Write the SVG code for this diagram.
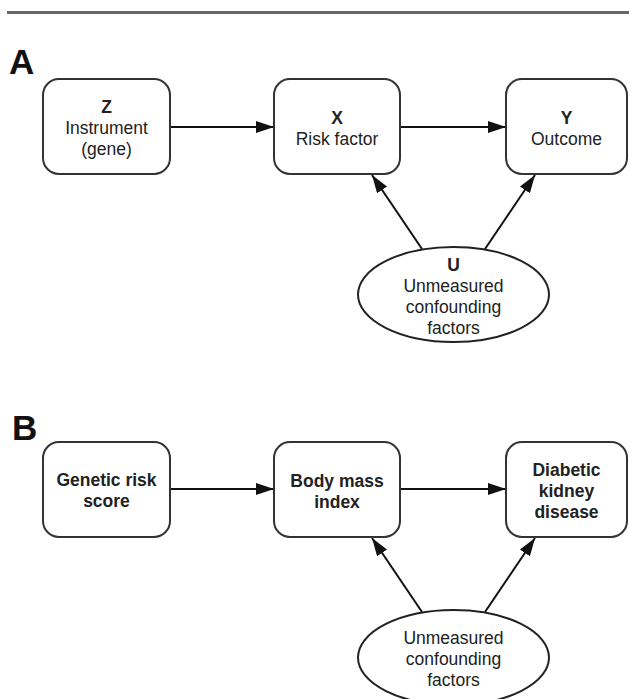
<svg xmlns="http://www.w3.org/2000/svg" width="629" height="699" viewBox="0 0 629 699">
<defs>
<marker id="ah" viewBox="0 0 18 12" refX="18" refY="6" markerWidth="18" markerHeight="12" markerUnits="userSpaceOnUse" orient="auto">
<path d="M0,0 L18,6 L0,12 Z" fill="#111"/>
</marker>
<style>
.box{fill:#fff;stroke:#333;stroke-width:2}
.ell{fill:#fff;stroke:#222;stroke-width:2}
.t{font-family:"Liberation Sans",Arial,sans-serif;font-size:17.5px;fill:#222;text-anchor:middle}
.b{font-weight:bold}
.lbl{font-family:"Liberation Sans",Arial,sans-serif;font-size:35px;font-weight:bold;fill:#111}
.c{stroke:#111;stroke-width:2;fill:none;marker-end:url(#ah)}
</style>
</defs>
<rect width="629" height="699" fill="#fff"/>
<rect x="7" y="11" width="622" height="3" fill="#666"/>
<text class="lbl" x="9" y="74">A</text>
<text class="lbl" x="12" y="440">B</text>

<g id="connectors">
<line class="c" x1="170" y1="127" x2="274" y2="127"/>
<line class="c" x1="400" y1="127" x2="506" y2="127"/>
<line class="c" x1="422" y1="249" x2="372" y2="175"/>
<line class="c" x1="485" y1="249" x2="535" y2="175"/>
<line class="c" x1="170" y1="489" x2="274" y2="489"/>
<line class="c" x1="400" y1="489" x2="506" y2="489"/>
<line class="c" x1="422" y1="612" x2="372" y2="538"/>
<line class="c" x1="485" y1="612" x2="535" y2="538"/>
</g>

<g id="nodeZ">
<rect class="box" x="43" y="79" width="127" height="95" rx="16"/>
<text class="t b" x="106.5" y="113">Z</text>
<text class="t" x="106.5" y="134">Instrument</text>
<text class="t" x="106.5" y="155">(gene)</text>
</g>
<g id="nodeX">
<rect class="box" x="274" y="79" width="126" height="95" rx="16"/>
<text class="t b" x="337" y="124">X</text>
<text class="t" x="337" y="145">Risk factor</text>
</g>
<g id="nodeY">
<rect class="box" x="506" y="79" width="121" height="95" rx="16"/>
<text class="t b" x="566.5" y="124">Y</text>
<text class="t" x="566.5" y="145">Outcome</text>
</g>
<g id="nodeU">
<ellipse class="ell" cx="453.5" cy="294.5" rx="95.5" ry="47.5"/>
<text class="t b" x="453.5" y="271">U</text>
<text class="t" x="453.5" y="292">Unmeasured</text>
<text class="t" x="453.5" y="313">confounding</text>
<text class="t" x="453.5" y="334">factors</text>
</g>

<g id="nodeGRS">
<rect class="box" x="43" y="442" width="127" height="95" rx="16"/>
<text class="t b" x="106.5" y="486">Genetic risk</text>
<text class="t b" x="106.5" y="507">score</text>
</g>
<g id="nodeBMI">
<rect class="box" x="274" y="442" width="126" height="95" rx="16"/>
<text class="t b" x="337" y="487">Body mass</text>
<text class="t b" x="337" y="508">index</text>
</g>
<g id="nodeDKD">
<rect class="box" x="506" y="442" width="121" height="95" rx="16"/>
<text class="t b" x="566.5" y="476">Diabetic</text>
<text class="t b" x="566.5" y="497">kidney</text>
<text class="t b" x="566.5" y="518">disease</text>
</g>
<g id="nodeU2">
<ellipse class="ell" cx="453.5" cy="657.5" rx="95.5" ry="47.5"/>
<text class="t" x="453.5" y="644">Unmeasured</text>
<text class="t" x="453.5" y="665">confounding</text>
<text class="t" x="453.5" y="686">factors</text>
</g>
</svg>
